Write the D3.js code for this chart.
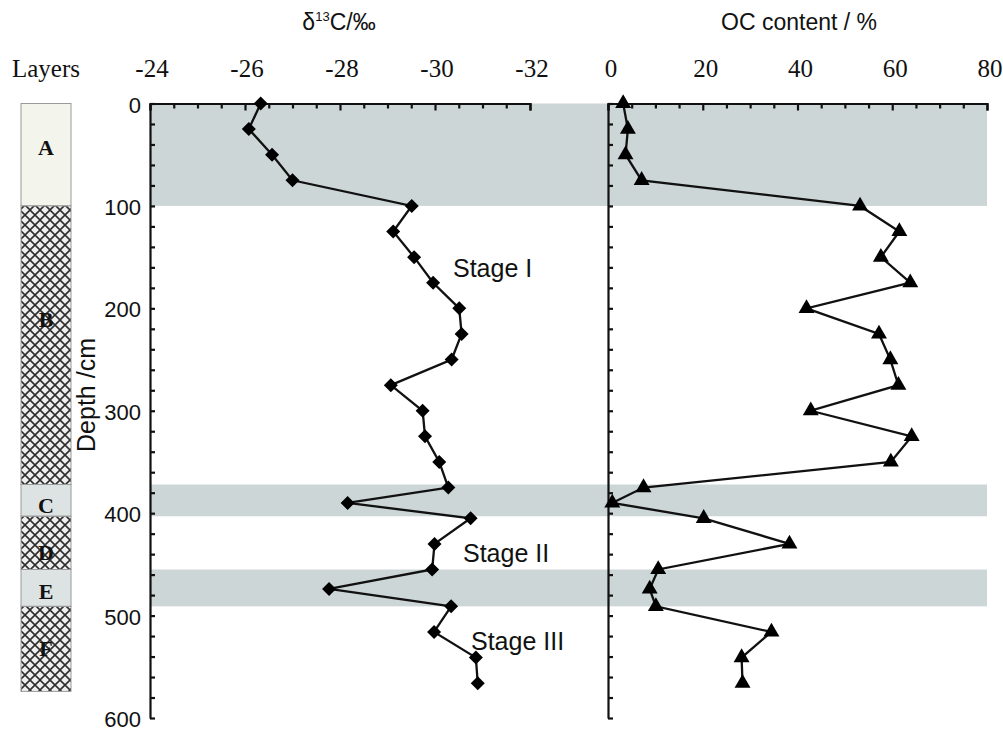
<!DOCTYPE html>
<html>
<head>
<meta charset="utf-8">
<script src="https://d3js.org/d3.v7.min.js"></script>
<style>
  body { margin: 0; background: #fff; }
</style>
</head>
<body>
<div id="profile"></div>
<script>
// sample depths (cm) and the two measured series
var depth = [0, 25, 50, 75, 100, 125, 150, 175, 200, 225, 250, 275, 300, 325, 350,
             375, 390, 405, 430, 455, 474, 491, 516, 541, 566];
var d13C = [-26.33, -26.08, -26.57, -27.0, -29.51, -29.12, -29.56, -29.96, -30.51, -30.56,
            -30.35, -29.07, -29.74, -29.79, -30.09, -30.28, -28.16, -30.75, -29.99, -29.94,
            -27.77, -30.34, -29.98, -30.86, -30.9];
var ocContent = [3.2, 4.2, 3.7, 7.1, 53.2, 61.5, 57.6, 63.8, 41.9, 57.2, 59.6, 61.3, 42.8,
                 64.1, 59.7, 7.5, 0.9, 20.2, 38.3, 10.6, 8.8, 10.1, 34.5, 28.2, 28.4];

// stratigraphic layers
var layerNames = ["A", "B", "C", "D", "E", "F"];
var layerTop = [0, 100, 372, 403, 455, 491];
var layerBottom = [100, 372, 403, 455, 491, 574];
var layerHatched = [false, true, false, true, false, true];

// tick labels
var d13CTicks = [-24, -26, -28, -30, -32];
var ocTicks = [0, 20, 40, 60, 80];
var depthTicks = [0, 100, 200, 300, 400, 500, 600];
var stageNames = ["Stage I", "Stage II", "Stage III"];

var width = 1003, height = 732;

var svg = d3.select("#profile")
    .append("svg")
    .attr("width", width)
    .attr("height", height)
    .style("font-family", "'Liberation Sans', Arial, sans-serif");

// hatch pattern for the hatched layers
var pat = svg.append("defs").append("pattern")
    .attr("id", "hatch")
    .attr("patternUnits", "userSpaceOnUse")
    .attr("width", 10)
    .attr("height", 10);
pat.append("rect").attr("width", 10).attr("height", 10).attr("fill", "#efefef");
pat.append("path")
    .attr("d", "M0,0L10,10M10,0L0,10")
    .attr("stroke", "#2e2e2e")
    .attr("stroke-width", 1.6);

// scales
var y = d3.scaleLinear().domain([0, 600]).range([103.5, 718]);
var x1 = d3.scaleLinear().domain([-24, -32]).range([150, 530]);
var x2 = d3.scaleLinear().domain([0, 80]).range([608, 987]);

var layers = layerNames.map(function(n, i) {
    return {name: n, top: layerTop[i], bottom: layerBottom[i], hatched: layerHatched[i]};
});

// grey bands for the non-hatched layers
svg.append("g").selectAll("rect")
    .data(layers.filter(function(d) { return !d.hatched; }))
    .enter().append("rect")
    .attr("x", x1(-24))
    .attr("width", x2(80) - x1(-24))
    .attr("y", function(d) { return y(d.top); })
    .attr("height", function(d) { return y(d.bottom) - y(d.top); })
    .attr("fill", "#cdd6d6");

// layer column
var col = svg.append("g");
col.selectAll("rect")
    .data(layers)
    .enter().append("rect")
    .attr("x", 21)
    .attr("width", 50)
    .attr("y", function(d) { return y(d.top); })
    .attr("height", function(d) { return y(d.bottom) - y(d.top); })
    .attr("fill", function(d, i) {
        if (d.hatched) return "url(#hatch)";
        return i === 0 ? "#f3f5ec" : "#dde3e3";
    })
    .attr("stroke", "#9a9a9a")
    .attr("stroke-width", 1);

var labelDepth = [42, 210, 392, 438, 476, 532];
col.selectAll("text")
    .data(layers)
    .enter().append("text")
    .attr("x", 46)
    .attr("y", function(d, i) { return y(labelDepth[i]) + 8; })
    .attr("text-anchor", "middle")
    .style("font-family", "'Liberation Serif', 'Times New Roman', serif")
    .style("font-weight", "bold")
    .style("font-size", "22px")
    .attr("fill", "#111")
    .text(function(d) { return d.name; });

// top axes (ticks point down into the plot)
function topAxis(scale, step) {
    var dom = scale.domain();
    var ticks = d3.range(0, Math.abs(dom[1] - dom[0]) / step + 1).map(function(k) {
        return dom[0] + Math.sign(dom[1] - dom[0]) * k * step;
    });
    return d3.axisBottom(scale)
        .tickValues(ticks)
        .tickSizeOuter(7)
        .tickSizeInner(5)
        .tickFormat("");
}

var axL = svg.append("g")
    .attr("transform", "translate(0," + y(0) + ")")
    .call(topAxis(x1, 0.5));
var axR = svg.append("g")
    .attr("transform", "translate(0," + y(0) + ")")
    .call(topAxis(x2, 5));

// vertical depth axes (ticks point right into the plot)
var depthAxis = d3.axisRight(y)
    .tickValues(d3.range(0, 601, 20))
    .tickSizeInner(5)
    .tickSizeOuter(0)
    .tickFormat("");
svg.append("g").attr("transform", "translate(" + x1(-24) + ",0)").call(depthAxis);
svg.append("g").attr("transform", "translate(" + x2(0) + ",0)").call(depthAxis);

svg.selectAll(".domain, .tick line")
    .attr("stroke", "#111")
    .attr("stroke-width", 2.2);

// longer major ticks on the top axes
axL.selectAll(".tick line").filter(function(d) { return d % 2 === 0; }).attr("y2", 7);
axR.selectAll(".tick line").filter(function(d) { return d % 20 === 0; }).attr("y2", 7);

// tick labels
var serif = "'Liberation Serif', 'Times New Roman', serif";
svg.append("g").selectAll("text")
    .data(d13CTicks)
    .enter().append("text")
    .attr("x", function(d) { return x1(d) + 2; })
    .attr("y", 77)
    .attr("text-anchor", "middle")
    .style("font-family", serif)
    .style("font-size", "25px")
    .attr("fill", "#111")
    .text(function(d) { return d; });

svg.append("g").selectAll("text")
    .data(ocTicks)
    .enter().append("text")
    .attr("x", function(d) { return x2(d) + 3; })
    .attr("y", 77)
    .attr("text-anchor", "middle")
    .style("font-family", serif)
    .style("font-size", "25px")
    .attr("fill", "#111")
    .text(function(d) { return d; });

svg.append("text")
    .attr("x", 12)
    .attr("y", 77)
    .style("font-family", serif)
    .style("font-size", "25px")
    .attr("fill", "#111")
    .text("Layers");

svg.append("g").selectAll("text")
    .data(depthTicks)
    .enter().append("text")
    .attr("x", 141)
    .attr("y", function(d) { return y(d) + 9; })
    .attr("text-anchor", "end")
    .style("font-size", "22px")
    .attr("fill", "#111")
    .text(function(d) { return d; });

// axis titles
var t1 = svg.append("text")
    .attr("x", 339)
    .attr("y", 30)
    .attr("text-anchor", "middle")
    .style("font-size", "23px")
    .attr("fill", "#111");
t1.append("tspan").text("δ");
t1.append("tspan").attr("dy", -9).style("font-size", "13px").text("13");
t1.append("tspan").attr("dy", 9).text("C/‰");

svg.append("text")
    .attr("x", 799)
    .attr("y", 30)
    .attr("text-anchor", "middle")
    .style("font-size", "23px")
    .attr("fill", "#111")
    .text("OC content / %");

svg.append("text")
    .attr("transform", "translate(95," + 395 + ") rotate(-90)")
    .attr("text-anchor", "middle")
    .style("font-size", "25px")
    .attr("fill", "#111")
    .text("Depth /cm");

// data lines
var lineL = d3.line()
    .x(function(d, i) { return x1(d13C[i]); })
    .y(function(d) { return y(d); });
var lineR = d3.line()
    .x(function(d, i) { return x2(ocContent[i]); })
    .y(function(d) { return y(d); });

svg.append("path")
    .datum(depth)
    .attr("fill", "none")
    .attr("stroke", "#111")
    .attr("stroke-width", 2.3)
    .attr("d", lineL);
svg.append("path")
    .datum(depth)
    .attr("fill", "none")
    .attr("stroke", "#111")
    .attr("stroke-width", 2.3)
    .attr("d", lineR);

// markers
var squareDiamond = {
    draw: function(ctx, size) {
        var r = Math.sqrt(size / 2);
        ctx.moveTo(0, -r);
        ctx.lineTo(r, 0);
        ctx.lineTo(0, r);
        ctx.lineTo(-r, 0);
        ctx.closePath();
    }
};

svg.append("g").selectAll("path")
    .data(depth)
    .enter().append("path")
    .attr("transform", function(d, i) { return "translate(" + x1(d13C[i]) + "," + y(d) + ")"; })
    .attr("d", d3.symbol().type(squareDiamond).size(98))
    .attr("fill", "#000");

svg.append("g").selectAll("path")
    .data(depth)
    .enter().append("path")
    .attr("transform", function(d, i) { return "translate(" + x2(ocContent[i]) + "," + y(d) + ")"; })
    .attr("d", d3.symbol().type(d3.symbolTriangle).size(110))
    .attr("fill", "#000");

// stage annotations
var stagePos = [[453, 277], [463, 562], [471, 650]];
svg.append("g").selectAll("text")
    .data(stageNames)
    .enter().append("text")
    .attr("x", function(d, i) { return stagePos[i][0]; })
    .attr("y", function(d, i) { return stagePos[i][1]; })
    .style("font-size", "25px")
    .attr("fill", "#111")
    .text(function(d) { return d; });
</script>
</body>
</html>
